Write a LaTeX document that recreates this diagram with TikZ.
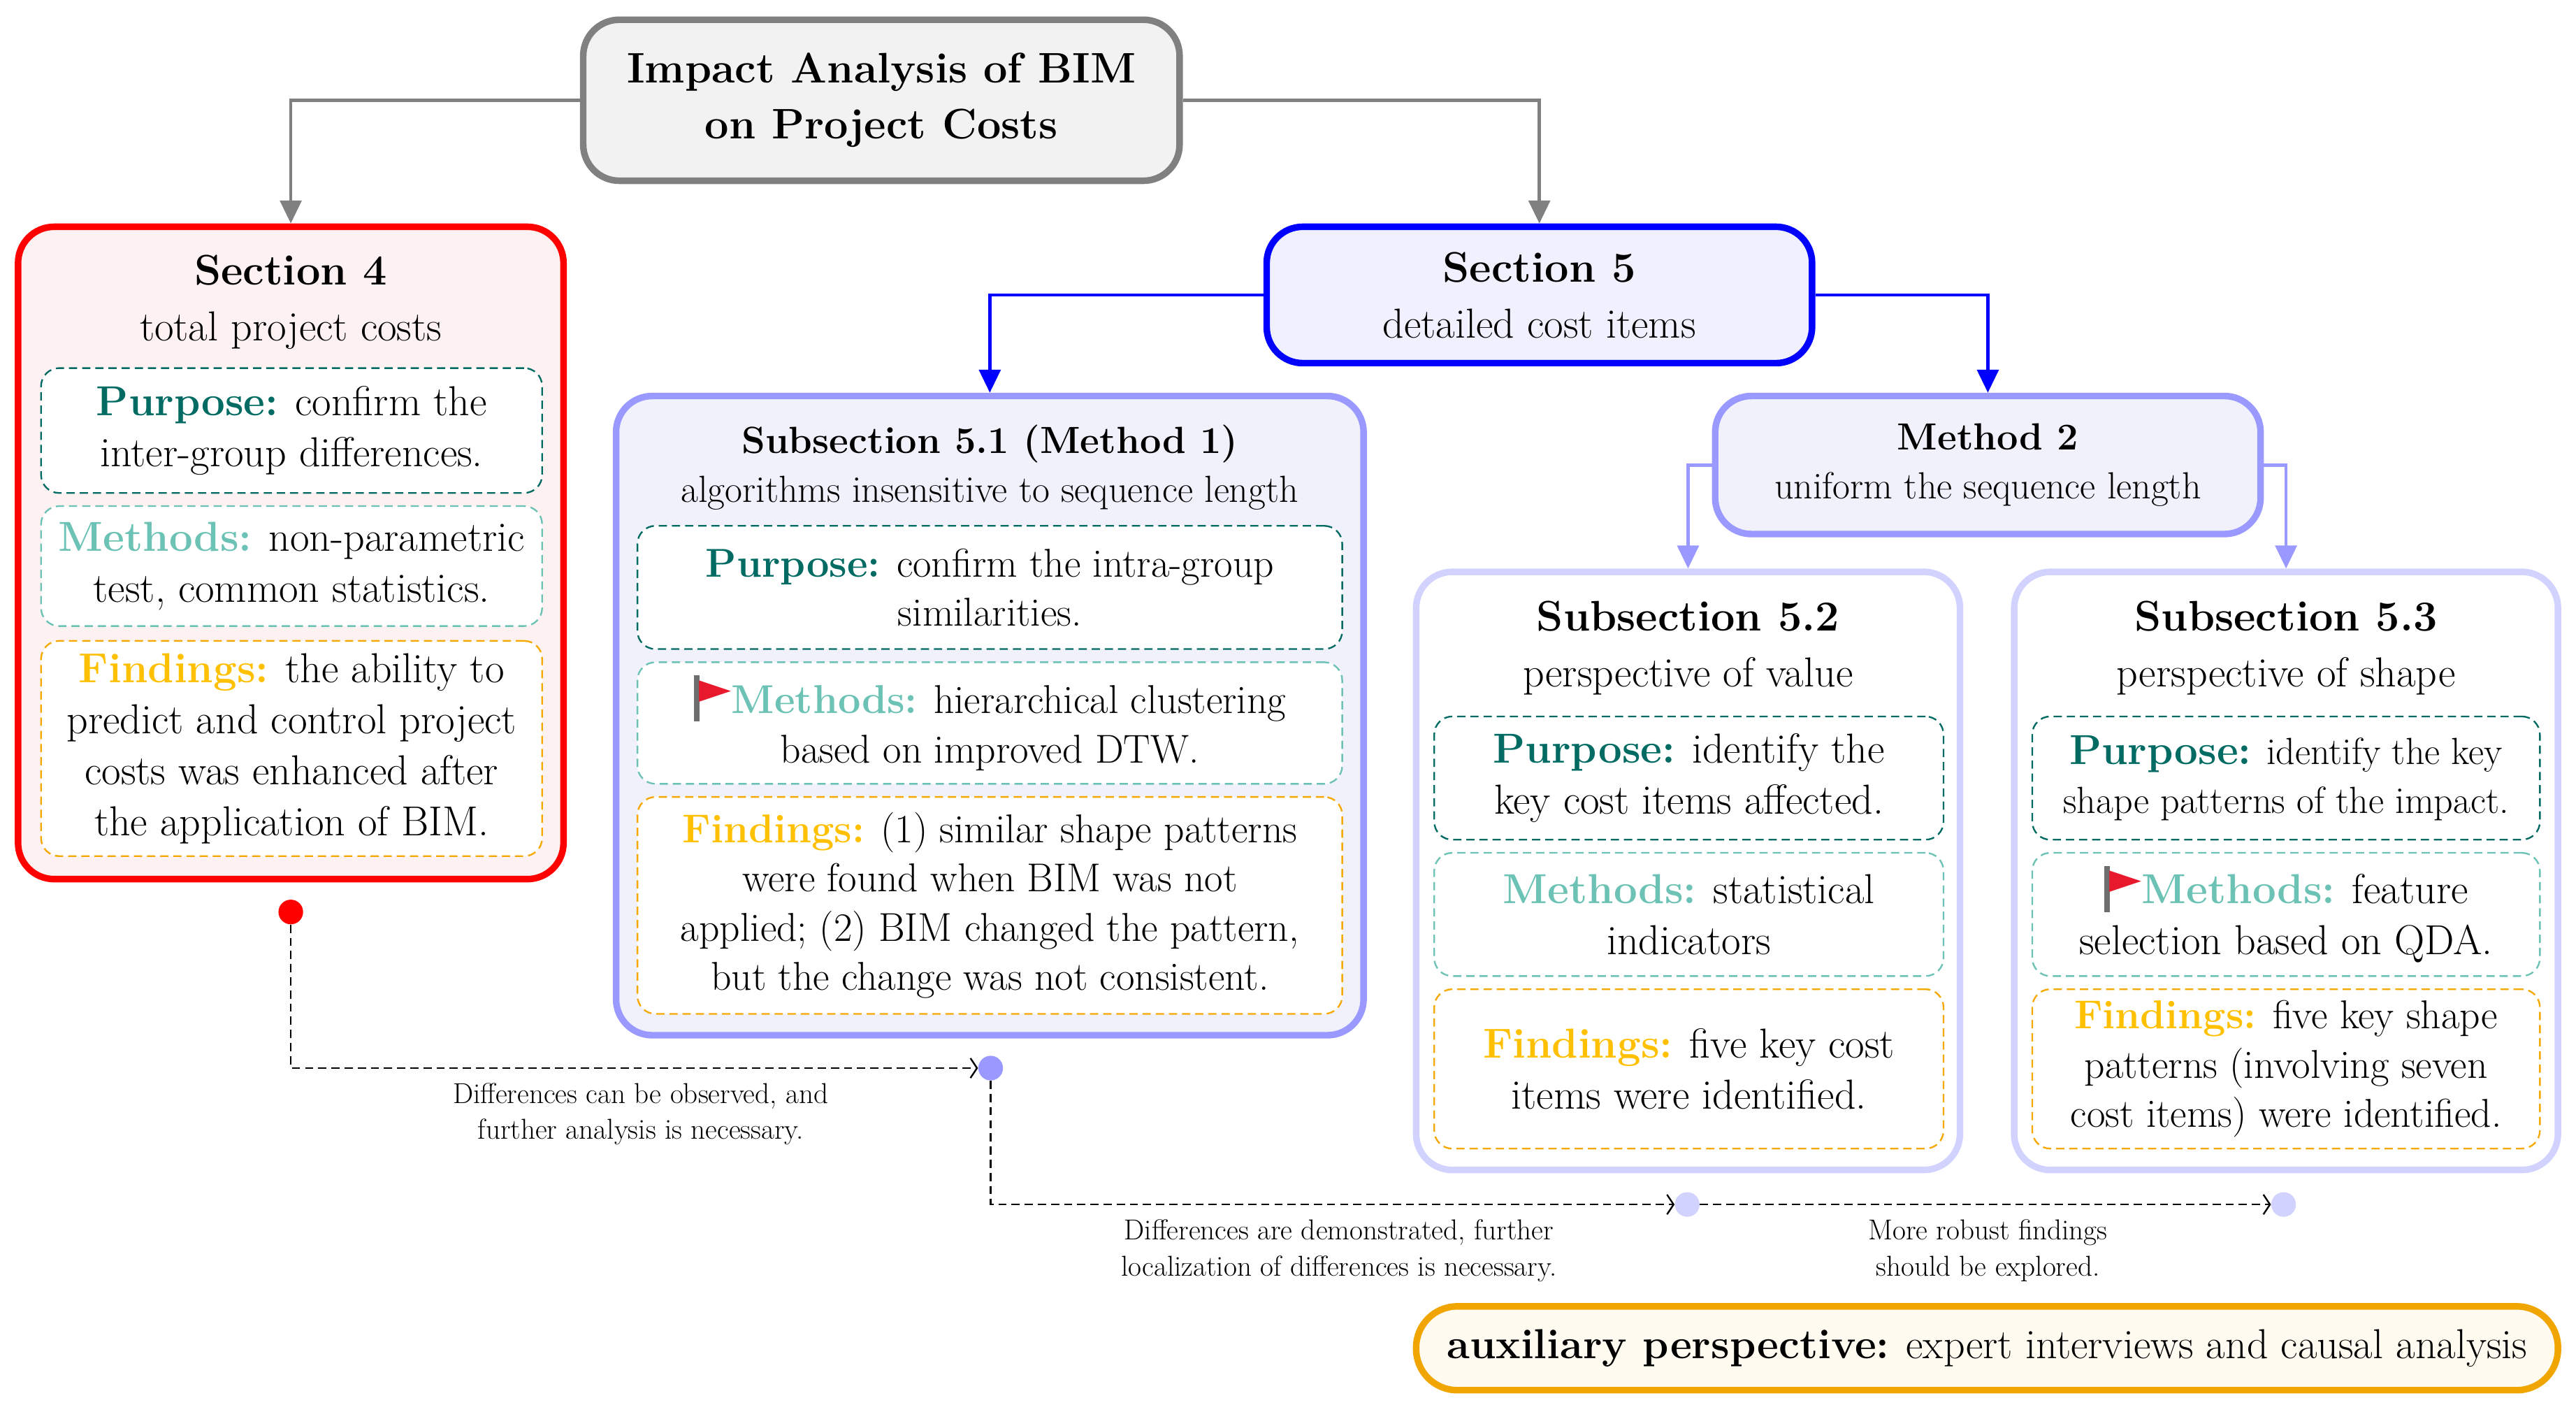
\documentclass[tikz,border=0pt]{standalone}
\usepackage{fontspec}
\usepackage{xcolor}
\usepackage{graphicx}
\usetikzlibrary{arrows.meta}
\newfontfamily\symbfont{DejaVu Sans}

\definecolor{titlegray}{HTML}{808080}
\definecolor{titlefill}{HTML}{F2F2F2}
\definecolor{secred}{HTML}{FF0000}
\definecolor{redfill}{HTML}{FDF1F1}
\definecolor{secblue}{HTML}{0000FF}
\definecolor{bluefill}{HTML}{F0F0FF}
\definecolor{midpurple}{HTML}{9999FF}
\definecolor{purplefill}{HTML}{F1F1FC}
\definecolor{lightpurple}{HTML}{D2D2FF}
\definecolor{purposecol}{HTML}{006B63}
\definecolor{methodscol}{HTML}{6CC2B5}
\definecolor{findingscol}{HTML}{FFC000}
\definecolor{findingsline}{HTML}{F5A800}
\definecolor{auxline}{HTML}{F0A500}
\definecolor{auxfill}{HTML}{FFFBF0}
\definecolor{flagred}{HTML}{E8192C}
\definecolor{flagpole}{HTML}{6E6E6E}

\newcommand{\headfont}{\fontsize{26}{34}\selectfont}
\newcommand{\bodyfont}{\fontsize{25.5}{31}\selectfont}
\newcommand{\midbody}{\fontsize{24.5}{30}\selectfont}
\newcommand{\smallbody}{\fontsize{23}{30}\selectfont}
\newcommand{\notefont}{\fontsize{17.5}{22}\selectfont}
\newcommand{\purp}{\textbf{\color{purposecol}Purpose:}}
\newcommand{\meth}{\textbf{\color{methodscol}Methods:}}
\newcommand{\find}{\textbf{\color{findingscol}Findings:}}
\newcommand{\flagmark}{\textcolor{flagpole}{\rule[-5pt]{3.5pt}{28pt}}\raisebox{9pt}{\scalebox{1.5}[1]{\symbfont\fontsize{17}{17}\selectfont\color{flagred}\char"25B6}}}

\begin{document}
\begin{tikzpicture}[x=1pt,y=1pt,yscale=-1,
  mainbox/.style={draw, rounded corners=22pt, line width=4pt, align=center, inner sep=0pt},
  partbox/.style={draw, dash pattern=on 5pt off 3pt, rounded corners=11pt, line width=1pt, fill=white, align=center, inner sep=1pt},
  flowarrow/.style={line width=2pt, -{Triangle[length=14pt,width=13pt]}},
  hintarrow/.style={dash pattern=on 5pt off 3pt, line width=1pt, -{Straight Barb[length=4pt,width=12pt]}},
  stagedot/.style={circle, inner sep=0pt, minimum size=15pt},
  hinttext/.style={align=center, font=\notefont}]
\useasboundingbox (0,0) rectangle (1568,859);

%Title
\node [mainbox, draw=titlegray, fill=titlefill, minimum width=363pt, minimum height=98pt, font=\headfont\bfseries] (title) at (536.5,61) {Impact Analysis of BIM\\on Project Costs};

%Section 4
\node [mainbox, draw=secred, fill=redfill, minimum width=332pt, minimum height=397pt] (sec4) at (177,336.5) {};
\node [align=center, font=\headfont] (sec4head) at (177,184) {\textbf{Section 4}\\{\bodyfont total project costs}};
\node [partbox, draw=purposecol, minimum width=305pt, minimum height=76pt, font=\bodyfont] (sec4purp) at (177.5,262) {\purp{} confirm the\\inter-group differences.};
\node [partbox, draw=methodscol, minimum width=305pt, minimum height=73pt, font=\bodyfont] (sec4meth) at (177.5,344.5) {\meth{} non-parametric\\test, common statistics.};
\node [partbox, draw=findingsline, minimum width=305pt, minimum height=131pt, font=\bodyfont] (sec4find) at (177.5,455.5) {\find{} the ability to\\predict and control project\\costs was enhanced after\\the application of BIM.};

%Section 5
\node [mainbox, draw=secblue, fill=bluefill, minimum width=332pt, minimum height=83pt, font=\headfont] (sec5) at (937,179.5) {\textbf{Section 5}\\{\bodyfont detailed cost items}};

%Subsection 5.1
\node [mainbox, draw=midpurple, fill=purplefill, minimum width=455pt, minimum height=389pt] (sub51) at (602.5,435.5) {};
\node [align=center, font=\smallbody] (sub51head) at (602.5,284.5) {\textbf{Subsection 5.1 (Method 1)}\\algorithms insensitive to sequence length};
\node [partbox, draw=purposecol, minimum width=429pt, minimum height=75pt, font=\midbody] (sub51purp) at (602.5,357.5) {\purp{} confirm the intra-group\\similarities.};
\node [partbox, draw=methodscol, minimum width=429pt, minimum height=74pt, font=\midbody] (sub51meth) at (602.5,440) {\flagmark\meth{} hierarchical clustering\\based on improved DTW.};
\node [partbox, draw=findingsline, minimum width=429pt, minimum height=132pt, font=\midbody] (sub51find) at (602.5,551) {\find{} (1) similar shape patterns\\were found when BIM was not\\applied; (2) BIM changed the pattern,\\but the change was not consistent.};

%Method 2
\node [mainbox, draw=midpurple, fill=purplefill, minimum width=332pt, minimum height=84pt, font=\smallbody] (meth2) at (1210,283) {\textbf{Method 2}\\uniform the sequence length};

%Subsection 5.2
\node [mainbox, draw=lightpurple, fill=white, minimum width=331pt, minimum height=364pt] (sub52) at (1027.5,530) {};
\node [align=center, font=\headfont] (sub52head) at (1027.5,394.5) {\textbf{Subsection 5.2}\\{\bodyfont perspective of value}};
\node [partbox, draw=purposecol, minimum width=310pt, minimum height=75pt, font=\bodyfont] (sub52purp) at (1028,473.5) {\purp{} identify the\\key cost items affected.};
\node [partbox, draw=methodscol, minimum width=310pt, minimum height=75pt, font=\bodyfont] (sub52meth) at (1028,556.5) {\meth{} statistical\\indicators};
\node [partbox, draw=findingsline, minimum width=310pt, minimum height=97pt, font=\bodyfont] (sub52find) at (1028,650.5) {\find{} five key cost\\items were identified.};

%Subsection 5.3
\node [mainbox, draw=lightpurple, fill=white, minimum width=331pt, minimum height=364pt] (sub53) at (1391.5,530) {};
\node [align=center, font=\headfont] (sub53head) at (1391.5,394.5) {\textbf{Subsection 5.3}\\{\bodyfont perspective of shape}};
\node [partbox, draw=purposecol, minimum width=309pt, minimum height=75pt, font=\smallbody] (sub53purp) at (1391.5,473.5) {{\bodyfont\purp{}} identify the key\\shape patterns of the impact.};
\node [partbox, draw=methodscol, minimum width=309pt, minimum height=75pt, font=\bodyfont] (sub53meth) at (1391.5,556.5) {\flagmark\meth{} feature\\selection based on QDA.};
\node [partbox, draw=findingsline, minimum width=309pt, minimum height=97pt, font=\midbody] (sub53find) at (1391.5,650.5) {\find{} five key shape\\patterns (involving seven\\cost items) were identified.};

%Auxiliary perspective
\node [mainbox, draw=auxline, fill=auxfill, rounded corners=25pt, minimum width=695pt, minimum height=51pt, font=\bodyfont] (aux) at (1209.5,820.5) {\textbf{auxiliary perspective:} expert interviews and causal analysis};

%Arrows between boxes
\draw [flowarrow, titlegray] (title.west) -| (sec4.north);
\draw [flowarrow, titlegray] (title.east) -| (sec5.north);
\draw [flowarrow, secblue] (sec5.west) -| (sub51.north);
\draw [flowarrow, secblue] (sec5.east) -| (meth2.north);
\draw [flowarrow, midpurple] (meth2.west) -| (sub52.north);
\draw [flowarrow, midpurple] (meth2.east) -| (sub53.north);

%Stage dots and hints
\node [stagedot, fill=secred] (dotsec4) at (177,555) {};
\node [stagedot, fill=midpurple] (dotsub51) at (603,650) {};
\node [stagedot, fill=lightpurple] (dotsub52) at (1027,733) {};
\node [stagedot, fill=lightpurple] (dotsub53) at (1390,733) {};
\draw [hintarrow] (dotsec4) |- (dotsub51);
\draw [hintarrow] (dotsub51) |- (dotsub52);
\draw [hintarrow] (dotsub52) -- (dotsub53);
\node [hinttext] (hintone) at (390,678) {Differences can be observed, and\\further analysis is necessary.};
\node [hinttext] (hinttwo) at (815,761) {Differences are demonstrated, further\\localization of differences is necessary.};
\node [hinttext] (hintthree) at (1210,761) {More robust findings\\should be explored.};
\end{tikzpicture}
\end{document}
